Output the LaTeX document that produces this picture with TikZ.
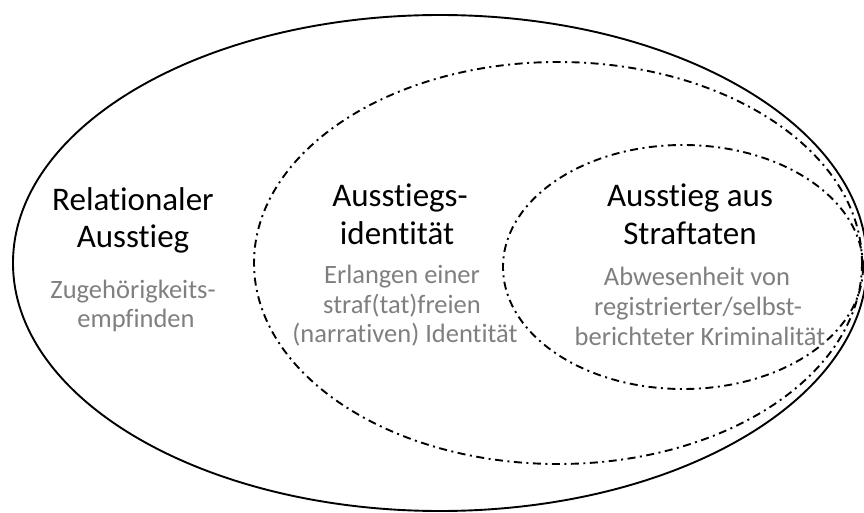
\documentclass[tikz,border=0pt]{standalone}
\usepackage{fontspec}
\setmainfont{Carlito}[Ligatures={NoCommon}]
\begin{document}
\begin{tikzpicture}[x=1pt,y=-1pt,
  ring/.style={line width=1.9pt},
  dashring/.style={line width=1.9pt,dash pattern=on 8pt off 4.5pt on 2pt off 4.5pt},
  head/.style={anchor=base,font=\fontsize{33}{38}\selectfont,text=black,inner sep=0pt},
  sub/.style={anchor=base,font=\fontsize{26.5}{30}\selectfont,text=gray50,inner sep=0pt}]
\definecolor{gray50}{HTML}{7F7F7F}
\useasboundingbox (0,0) rectangle (864,513);
\draw[ring] (440,263) ellipse [x radius=427, y radius=248];
\draw[dashring] (558,263) ellipse [x radius=304, y radius=201];
\draw[dashring] (683,267) ellipse [x radius=180, y radius=122];
% left block
\node[head] (h1a) at (133,211) {Relationaler};
\node[head] (h1b) at (133,247) {Ausstieg};
\node[sub]  (s1a) at (133,298) {Zugehörigkeits-};
\node[sub]  (s1b) at (136,327) {empfinden};
% middle block
\node[head] (h2a) at (400,207) {Ausstiegs-};
\node[head] (h2b) at (397,244) {identität};
\node[sub]  (s2a) at (402,283) {Erlangen einer};
\node[sub]  (s2b) at (402,313) {straf(tat)freien};
\node[sub]  (s2c) at (405,342) {(narrativen) Identität};
% right block
\node[head] (h3a) at (690,207) {Ausstieg aus};
\node[head] (h3b) at (690,244) {Straftaten};
\node[sub]  (s3a) at (697,285) {Abwesenheit von};
\node[sub]  (s3b) at (698,315) {registrierter/selbst-};
\node[sub]  (s3c) at (700,345) {berichteter Kriminalität};
\end{tikzpicture}
\end{document}
